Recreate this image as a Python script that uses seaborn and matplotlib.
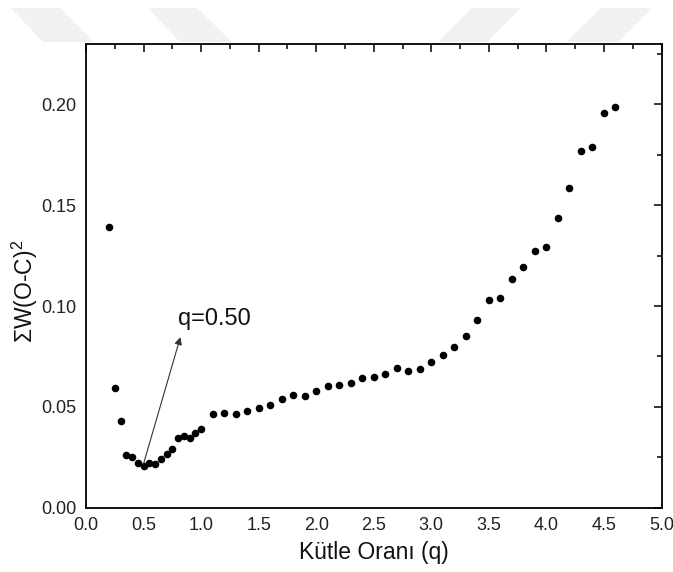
import matplotlib
matplotlib.use("Agg")
import matplotlib.pyplot as plt
import seaborn as sns
import pandas as pd
from matplotlib.patches import Polygon
from matplotlib.ticker import MultipleLocator

# Kütle oranı taraması: q ve ağırlıklı artık kareler toplamı
q_values = [0.20, 0.25, 0.30, 0.35, 0.40, 0.45, 0.50, 0.55, 0.60, 0.65,
            0.70, 0.75, 0.80, 0.85, 0.90, 0.95, 1.00, 1.10, 1.20, 1.30,
            1.40, 1.50, 1.60, 1.70, 1.80, 1.90, 2.00, 2.10, 2.20, 2.30,
            2.40, 2.50, 2.60, 2.70, 2.80, 2.90, 3.00, 3.10, 3.20, 3.30,
            3.40, 3.50, 3.60, 3.70, 3.80, 3.90, 4.00, 4.10, 4.20, 4.30,
            4.40, 4.50, 4.60]
sum_w_oc2 = [0.1394, 0.0596, 0.0429, 0.0262, 0.0252, 0.0223, 0.0208, 0.0221, 0.0218, 0.0244,
             0.0264, 0.0290, 0.0345, 0.0355, 0.0345, 0.0370, 0.0390, 0.0464, 0.0472, 0.0464,
             0.0480, 0.0493, 0.0508, 0.0540, 0.0561, 0.0554, 0.0579, 0.0606, 0.0608, 0.0620,
             0.0644, 0.0648, 0.0665, 0.0691, 0.0680, 0.0686, 0.0721, 0.0756, 0.0795, 0.0851,
             0.0932, 0.1030, 0.1041, 0.1134, 0.1195, 0.1272, 0.1295, 0.1437, 0.1587, 0.1767,
             0.1787, 0.1957, 0.1988]
best_q = 0.50
best_label = "q=0.50"

df = pd.DataFrame({"q": q_values, "chi": sum_w_oc2})

sns.set_style("white")
plt.rcParams["font.family"] = ["Liberation Sans", "DejaVu Sans"]
plt.rcParams["mathtext.fontset"] = "custom"
plt.rcParams["mathtext.rm"] = "Liberation Sans"
plt.rcParams["mathtext.default"] = "regular"

W, H = 673, 572
fig = plt.figure(figsize=(W / 100, H / 100), dpi=100)

# faint watermark shapes at the top of the page
wm = [[(11, 8), (60, 8), (94, 42), (43, 42)],
      [(148, 8), (197, 8), (232, 42), (180, 42)],
      [(472, 8), (521, 8), (487, 42), (438, 42)],
      [(601, 8), (652, 8), (618, 42), (566, 42)]]
for pts in wm:
    fig.patches.append(Polygon([(x / W, 1 - y / H) for x, y in pts], closed=True,
                               transform=fig.transFigure, facecolor="#f1f1f1",
                               edgecolor="none", zorder=0))

ax = fig.add_axes([86 / W, 1 - 507.7 / H, (661.5 - 86) / W, (507.7 - 44) / H])

sns.scatterplot(data=df, x="q", y="chi", ax=ax, color="black", s=30,
                edgecolor="black", linewidth=0, zorder=3)

ax.set_xlim(0, 5.0)
ax.set_ylim(0, 0.23)
ax.xaxis.set_major_locator(MultipleLocator(0.5))
ax.xaxis.set_minor_locator(MultipleLocator(0.25))
ax.yaxis.set_major_locator(MultipleLocator(0.05))
ax.yaxis.set_minor_locator(MultipleLocator(0.025))
ax.xaxis.set_major_formatter(lambda v, p: f"{v:.1f}")
ax.yaxis.set_major_formatter(lambda v, p: f"{v:.2f}")

ax.tick_params(which="both", direction="in", top=True, right=True,
               labeltop=False, labelright=False, width=1.1, colors="black")
ax.tick_params(which="major", length=6, pad=7, labelsize=13, labelcolor="#222222")
ax.tick_params(which="minor", length=3.5)
for sp in ax.spines.values():
    sp.set_linewidth(1.3)
    sp.set_color("black")

ax.set_xlabel("Kütle Oranı (q)", fontsize=16.5, labelpad=5, color="#111111")
ax.set_ylabel(r"ΣW(O-C)$^2$", fontsize=16.5, color="#111111")
ax.yaxis.label.set_va("center")
ax.yaxis.set_label_coords((25 - 86) / (661.5 - 86), (507.7 - 291) / (507.7 - 44))

best_chi = sum_w_oc2[q_values.index(best_q)]
ax.annotate("", xy=(0.82, 0.0846), xytext=(best_q, best_chi + 0.001),
            arrowprops=dict(arrowstyle="-|>", color="#333333", lw=0.8,
                            mutation_scale=11, shrinkA=0, shrinkB=0))
ax.text(0.80, 0.0906, best_label, fontsize=17, color="#111111", ha="left", va="baseline")

fig.savefig("out.png", dpi=100)
